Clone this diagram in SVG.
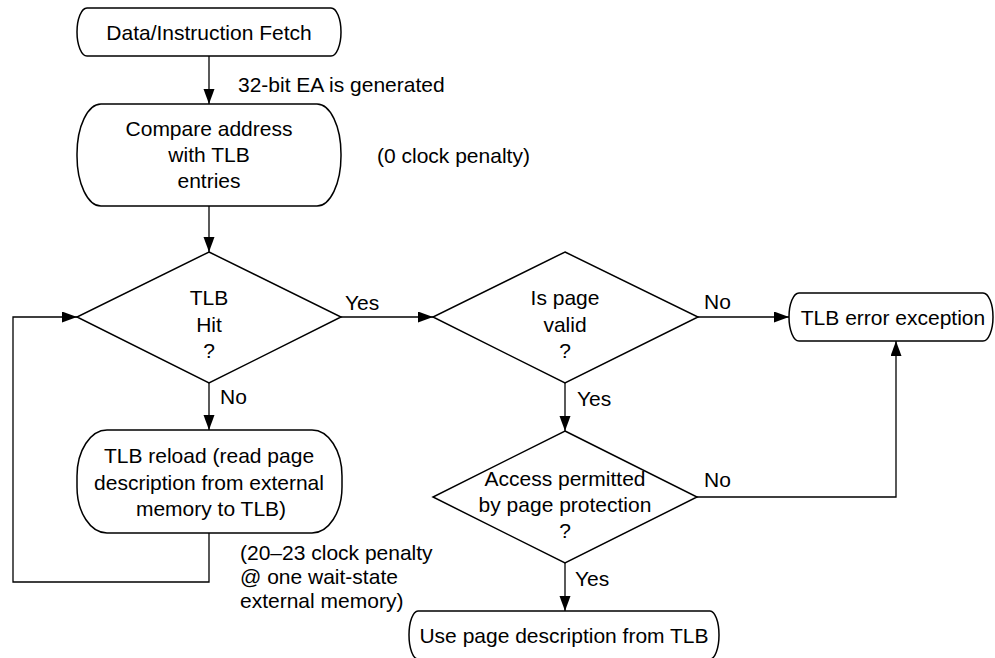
<svg xmlns="http://www.w3.org/2000/svg" width="995" height="658" viewBox="0 0 995 658">
<style>
  .shape { fill: #fff; stroke: #000; stroke-width: 1.5; }
  .conn { fill: none; stroke: #000; stroke-width: 1.3; }
  text { font-family: "Liberation Sans", Arial, sans-serif; font-size: 21px; fill: #000; }
  .c { text-anchor: middle; }
</style>
<defs>
  <marker id="arrow" markerUnits="userSpaceOnUse" markerWidth="16" markerHeight="12" refX="15" refY="5.5" orient="auto">
    <path d="M0,0 L15,5.5 L0,11 z" fill="#000"/>
  </marker>
</defs>
<rect width="995" height="658" fill="#fff"/>

<g id="connectors">
  <path class="conn" d="M209,56 V104" marker-end="url(#arrow)"/>
  <path class="conn" d="M209,206 V252" marker-end="url(#arrow)"/>
  <path class="conn" d="M341,317 H433" marker-end="url(#arrow)"/>
  <path class="conn" d="M209,383 V430" marker-end="url(#arrow)"/>
  <path class="conn" d="M209,533 V582 H13 V317 H77" marker-end="url(#arrow)"/>
  <path class="conn" d="M698,317 H789" marker-end="url(#arrow)"/>
  <path class="conn" d="M565,383 V431" marker-end="url(#arrow)"/>
  <path class="conn" d="M697,497 H896 V341" marker-end="url(#arrow)"/>
  <path class="conn" d="M565,563 V611" marker-end="url(#arrow)"/>
  <text x="238" y="92">32-bit EA is generated</text>
  <text x="345" y="310">Yes</text>
  <text x="220" y="404">No</text>
  <text x="704" y="309">No</text>
  <text x="577" y="406">Yes</text>
  <text x="704" y="487">No</text>
  <text x="575" y="586">Yes</text>
</g>

<g id="fetch">
  <rect class="shape" x="77" y="8" width="264" height="48" rx="10" ry="24"/>
  <text class="c" x="209" y="40">Data/Instruction Fetch</text>
</g>

<g id="compare">
  <rect class="shape" x="77" y="104" width="264" height="102" rx="24" ry="50"/>
  <text class="c" x="209" y="136">Compare address</text>
  <text class="c" x="209" y="162">with TLB</text>
  <text class="c" x="209" y="188">entries</text>
</g>

<g id="zero-penalty">
  <text x="377" y="163">(0 clock penalty)</text>
</g>

<g id="tlb-hit">
  <polygon class="shape" points="209,252 341,317 209,383 77,317"/>
  <text class="c" x="209" y="305">TLB</text>
  <text class="c" x="209" y="332">Hit</text>
  <text class="c" x="209" y="358">?</text>
</g>

<g id="tlb-reload">
  <rect class="shape" x="77" y="430" width="265" height="103" rx="30" ry="46"/>
  <text class="c" x="209" y="463">TLB reload (read page</text>
  <text class="c" x="209" y="490">description from external</text>
  <text class="c" x="211" y="516">memory to TLB)</text>
</g>

<g id="reload-penalty">
  <text x="240" y="560">(20–23 clock penalty</text>
  <text x="240" y="584">@ one wait-state</text>
  <text x="240" y="608">external memory)</text>
</g>

<g id="page-valid">
  <polygon class="shape" points="565,252 698,317 565,383 433,317"/>
  <text class="c" x="565" y="305">Is page</text>
  <text class="c" x="565" y="332">valid</text>
  <text class="c" x="565" y="358">?</text>
</g>

<g id="tlb-error">
  <rect class="shape" x="789" y="293" width="204" height="48" rx="10" ry="24"/>
  <text class="c" x="893" y="325">TLB error exception</text>
</g>

<g id="access-permitted">
  <polygon class="shape" points="565,431 697,497 565,563 433,497"/>
  <text class="c" x="565" y="486">Access permitted</text>
  <text class="c" x="565" y="512">by page protection</text>
  <text class="c" x="565" y="538">?</text>
</g>

<g id="use-page">
  <rect class="shape" x="409" y="611" width="310" height="48" rx="9" ry="24"/>
  <text class="c" x="564" y="643">Use page description from TLB</text>
</g>
</svg>
